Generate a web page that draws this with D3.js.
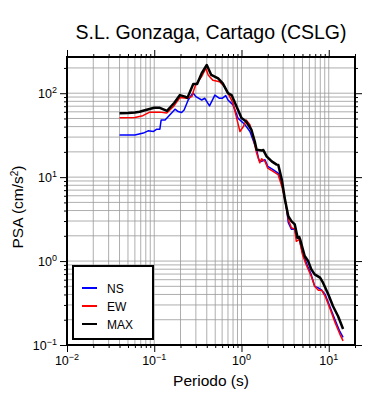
<!DOCTYPE html>
<html>
<head>
<meta charset="utf-8">
<script src="https://cdn.jsdelivr.net/npm/d3@7"></script>
<style>
  body { margin: 0; background: #fff; }
  text { font-family: "Liberation Sans", Arial, sans-serif; fill: #000; }
</style>
</head>
<body>
<div id="chart"></div>
<script>
// spectra: [period (s), PSA (cm/s2)]
var nsData = [[0.04,31.7],[0.06,31.7],[0.075,33.5],[0.085,35.6],[0.098,35],[0.107,37.3],[0.116,37.3],[0.12,48],[0.133,48],[0.145,52.7],[0.158,58],[0.173,64.5],[0.188,60.5],[0.206,58.8],[0.22,63],[0.245,83],[0.27,97],[0.28,100],[0.30,91],[0.35,83],[0.38,87],[0.43,70.6],[0.495,95],[0.56,87],[0.60,87],[0.66,93.6],[0.70,83],[0.80,72.6],[0.91,50.5],[1.1,42],[1.25,35],[1.42,24.3],[1.49,21.2],[1.58,16.1],[1.7,15.4],[1.86,16.1],[2.0,13.4],[2.3,12.3],[2.63,11.2],[2.9,8.5],[3.15,5.4],[3.3,4.1],[3.44,2.86],[3.73,2.4],[4.08,2.4],[4.25,1.9],[4.6,1.81],[5.0,1.26],[5.8,0.84],[6.3,0.69],[6.9,0.5],[7.6,0.48],[8.3,0.45],[9.1,0.40],[10.4,0.28],[11.8,0.2],[13.4,0.145],[14.6,0.123]];
var ewData = [[0.04,51],[0.06,51.5],[0.074,54],[0.089,59.5],[0.116,59.5],[0.139,58],[0.165,69],[0.197,89],[0.235,87],[0.27,91],[0.28,104],[0.30,128],[0.35,158],[0.39,198],[0.415,165],[0.47,143],[0.56,137],[0.64,120],[0.70,100],[0.80,76],[0.88,50.5],[0.96,35],[1.05,40],[1.13,48],[1.25,42],[1.35,30.5],[1.49,19.4],[1.62,14.8],[1.7,16.5],[1.86,15.4],[2.0,12.8],[2.3,11.7],[2.63,10.7],[2.9,7.8],[3.15,5.4],[3.44,3.13],[3.73,2.49],[4.08,2.4],[4.25,1.72],[4.6,1.81],[5.0,1.2],[5.5,0.91],[6.3,0.66],[6.9,0.50],[7.6,0.45],[8.3,0.45],[9.1,0.38],[10.4,0.267],[11.8,0.186],[13.4,0.135],[14.6,0.112]];
var maxData = [[0.04,57.8],[0.05,58],[0.06,59],[0.068,60],[0.08,63],[0.1,67],[0.116,67],[0.14,61.6],[0.17,77],[0.197,95],[0.225,91],[0.24,88],[0.28,129],[0.31,129],[0.35,173],[0.40,217],[0.45,165],[0.54,150],[0.61,131],[0.70,100],[0.77,95],[0.88,69],[1.0,50.5],[1.13,46],[1.3,36.7],[1.42,26.6],[1.49,21.2],[1.7,20.8],[1.78,21],[1.94,17.7],[2.22,15.4],[2.53,14.1],[2.64,14.0],[2.9,9.3],[3.15,5.4],[3.44,3.42],[3.73,2.99],[4.08,2.73],[4.4,1.9],[4.6,1.93],[4.7,1.81],[5.3,1.15],[5.8,1.0],[6.3,0.8],[6.9,0.695],[7.95,0.635],[8.6,0.553],[9.9,0.40],[11.2,0.29],[12.8,0.22],[14.6,0.155]];

var seriesNames = ["NS", "EW", "MAX"];
var seriesColors = ["#0000ff", "#ff0000", "#000000"];
var xMajor = [0.01, 0.1, 1, 10];
var yMajor = [0.1, 1, 10, 100];

var margin = {top: 57, right: 35, bottom: 55, left: 67},
    width = 390 - margin.left - margin.right,
    height = 400 - margin.top - margin.bottom;

var svg = d3.select("#chart").append("svg")
    .attr("width", 390)
    .attr("height", 400);

var g = svg.append("g")
    .attr("transform", "translate(" + margin.left + "," + margin.top + ")");

var x = d3.scaleLog().domain([0.01, 20]).range([0, width]);
var y = d3.scaleLog().domain([0.1, 270]).range([height, 0]);

function isMajor(v) { return Math.abs(Math.log10(v) - Math.round(Math.log10(v))) < 1e-6; }

// grid
g.append("g").selectAll("line").data(x.ticks()).enter().append("line")
    .attr("x1", function(d) { return x(d); }).attr("x2", function(d) { return x(d); })
    .attr("y1", 0).attr("y2", height)
    .attr("stroke", "#999").attr("stroke-width", 0.8);
g.append("g").selectAll("line").data(y.ticks()).enter().append("line")
    .attr("y1", function(d) { return y(d); }).attr("y2", function(d) { return y(d); })
    .attr("x1", 0).attr("x2", width)
    .attr("stroke", "#999").attr("stroke-width", 0.8);

// axes with long major ticks, short minor ticks
function styleAxis(sel) {
  sel.select(".domain").remove();
  sel.selectAll(".tick line").attr("stroke", "#000").attr("stroke-width", 1);
}
var xt = x.ticks(), yt = y.ticks();
[["bottom", height], ["top", 0]].forEach(function(a) {
  var ax = (a[0] == "bottom" ? d3.axisBottom(x) : d3.axisTop(x)).tickValues(xt).tickFormat("").tickSizeInner(3).tickSizeOuter(0);
  var s = g.append("g").attr("transform", "translate(0," + a[1] + ")").call(ax).call(styleAxis);
  s.selectAll(".tick line").filter(function(d) { return isMajor(d); }).attr("y2", a[0] == "bottom" ? 7 : -7);
});
[["left", 0], ["right", width]].forEach(function(a) {
  var ax = (a[0] == "left" ? d3.axisLeft(y) : d3.axisRight(y)).tickValues(yt).tickFormat("").tickSizeInner(3).tickSizeOuter(0);
  var s = g.append("g").attr("transform", "translate(" + a[1] + ",0)").call(ax).call(styleAxis);
  s.selectAll(".tick line").filter(function(d) { return isMajor(d); }).attr("x2", a[0] == "left" ? -7 : 7);
});

function powLabel(sel, v) {
  var e = Math.round(Math.log10(v));
  sel.append("tspan").text("10");
  sel.append("tspan").attr("dy", -5).attr("font-size", 9).text(String(e).replace("-", "\u2212"));
}

xMajor.forEach(function(v) {
  g.append("text").attr("x", x(v)).attr("y", height + 20)
    .attr("text-anchor", "middle").attr("font-size", 12.5)
    .call(powLabel, v);
});
yMajor.forEach(function(v) {
  g.append("text").attr("x", -10).attr("y", y(v) + 4.5)
    .attr("text-anchor", "end").attr("font-size", 12.5)
    .call(powLabel, v);
});

// curves
var line = d3.line()
    .x(function(d) { return x(d[0]); })
    .y(function(d) { return y(d[1]); });

[nsData, ewData, maxData].forEach(function(data, i) {
  g.append("path")
    .datum(data)
    .attr("fill", "none")
    .attr("stroke", seriesColors[i])
    .attr("stroke-width", i == 2 ? 2.5 : 1.5)
    .attr("stroke-linejoin", "round")
    .attr("d", line);
});

// frame
g.append("rect").attr("width", width).attr("height", height)
    .attr("fill", "none").attr("stroke", "#000").attr("stroke-width", 2);

// legend
var lg = g.append("g").attr("transform", "translate(6,209)");
lg.append("rect").attr("width", 80).attr("height", 73)
    .attr("fill", "#fff").attr("stroke", "#000").attr("stroke-width", 2);
seriesNames.forEach(function(n, i) {
  var yy = 22 + i * 18;
  lg.append("line").attr("x1", 9).attr("x2", 24).attr("y1", yy).attr("y2", yy)
    .attr("stroke", seriesColors[i]).attr("stroke-width", 2);
  lg.append("text").attr("x", 34).attr("y", yy + 4.5).attr("font-size", 12).text(n);
});

// titles
svg.append("text")
    .attr("x", margin.left + width / 2).attr("y", 39)
    .attr("text-anchor", "middle").attr("font-size", 19.5)
    .text("S.L. Gonzaga, Cartago (CSLG)");

svg.append("text")
    .attr("x", margin.left + width / 2).attr("y", 386)
    .attr("text-anchor", "middle").attr("font-size", 15.5)
    .text("Periodo (s)");

var yl = svg.append("text")
    .attr("transform", "translate(23," + (margin.top + height / 2 + 6) + ")rotate(-90)")
    .attr("text-anchor", "middle").attr("font-size", 15.5);
yl.append("tspan").text("PSA (cm/s");
yl.append("tspan").attr("dy", -5).attr("font-size", 10).text("2");
yl.append("tspan").attr("dy", 5).text(")");
</script>
</body>
</html>
